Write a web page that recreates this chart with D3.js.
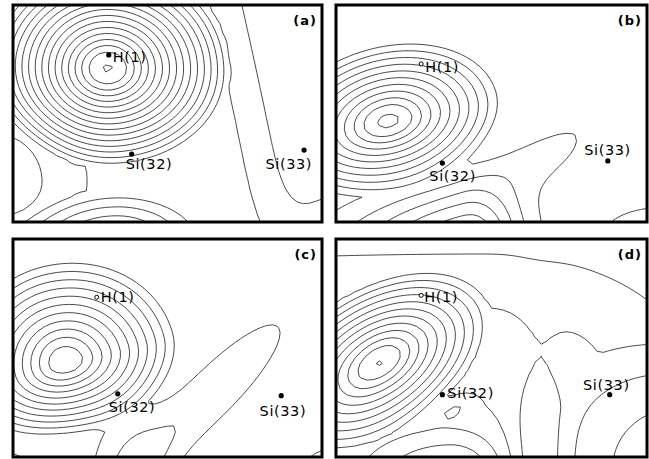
<!DOCTYPE html>
<html>
<head>
<meta charset="utf-8">
<script src="https://cdn.jsdelivr.net/npm/d3@7"></script>
<style>
  html, body { margin: 0; padding: 0; background: #fff; }
  svg { display: block; }
</style>
</head>
<body>
<svg id="fig" width="649" height="459"></svg>
<script>
// ---- data ---------------------------------------------------------------
// Map coordinates: x 0–100, y 0–70 (y grows downward in the section plane).
const panelIds = ["(a)", "(b)", "(c)", "(d)"];
const atomNames = ["H(1)", "Si(32)", "Si(33)"];

// Atom positions in map units, order follows atomNames.
const atomsA = [[31.0, 16.1], [38.4, 48.1], [94.2, 46.8]];
const atomsB = [[27.4, 19.0], [34.2, 51.0], [87.4, 50.3]];
const atomsC = [[27.1, 18.7], [33.9, 49.7], [86.8, 50.3]];
const atomsD = [[27.4, 18.1], [34.2, 50.0], [88.0, 50.0]];

// H(1) drawn as a filled dot in (a), as an open circle in the others.
const hOpen = [false, true, true, true];

// Constant density offset of each map.
const baseDensity = [1.2, 0, 0, 0];

// Density components: [kind, x, y, height, left, right, up, down, rotation°]
//   kind "g" gaussian, "c" rounded cone, "f" flat-topped hump.
const densityA = [
  ["c", 30.5, 20.5, 17.55, 38, 40, 34, 32, 0],
  ["f", 54.0, 35.0, 2.1, 200, 23, 200, 200, -12],
  ["g", -6.0, 57.0, -2.2, 15, 15, 15, 11, 0],
  ["c", 33.0, 76.0, 5.5, 36, 30, 16, 16, 0],
  ["g", 108.0, 78.0, 2.2, 12, 12, 12, 12, 0]
];
const densityB = [
  ["c", 16.8, 37.5, 12.5, 40, 39, 26, 23, -15],
  ["g", 43.0, 76.0, 6.0, 30, 12, 12, 12, -8],
  ["g", 64.0, 49.0, 1.35, 18, 19, 5, 8, -28],
  ["g", 104.0, 76.0, 2.0, 16, 12, 9, 9, 0]
];
const densityC = [
  ["c", 16.8, 39.5, 13.0, 36, 39, 34, 24, -15],
  ["g", 65.0, 49.0, 1.9, 34, 26, 6.6, 6.6, -45],
  ["g", 38.0, 72.0, 1.6, 10, 9, 16, 10, 0],
  ["g", -2.0, 74.0, 1.8, 6, 6, 5, 5, 0],
  ["g", 104.0, 76.0, 1.8, 10, 10, 8, 8, 0]
];
const densityD = [
  ["c", 14.2, 39.5, 11.5, 42, 40, 24, 22, -35],
  ["g", 50.0, 45.0, 2.8, 200, 45, 28, 200, 0],
  ["g", 64.5, 74.0, -1.6, 6, 6, 25, 25, 0],
  ["c", 118.0, 74.0, 5.0, 50, 50, 50, 50, 0],
  ["g", 37.0, 78.0, 4.0, 20, 12, 11, 11, 0],
  ["g", 38.0, 55.0, 1.0, 4, 4, 1.8, 1.8, -25]
];

const levelStep = 1;

// ---- layout -------------------------------------------------------------
const frames = [
  { x: 13,  y: 5,   w: 309, h: 217 },
  { x: 336, y: 5,   w: 311, h: 217 },
  { x: 13,  y: 239, w: 309, h: 218 },
  { x: 336, y: 239, w: 311, h: 218 }
];
// label offsets from each atom dot: [dx, dy, anchor]
const labelPlacement = [
  [[4, 7, "start"], [-6, 15, "start"], [8, 19, "end"]],
  [[4, 8, "start"], [-13, 18, "start"], [23, -6, "end"]],
  [[4, 5, "start"], [-9, 18, "start"], [25, 20, "end"]],
  [[3, 7, "start"], [5, 3, "start"], [20, -5, "end"]]
];

const atomSets = [atomsA, atomsB, atomsC, atomsD];
const densitySets = [densityA, densityB, densityC, densityD];

const svg = d3.select("#fig");
svg.append("rect").attr("width", 649).attr("height", 459).attr("fill", "#fff");

function profile(kind, d) {
  if (kind === "g") return Math.exp(-0.5 * d * d);
  if (kind === "f") return Math.exp(-0.5 * d * d * d * d);
  // rounded cone: linear flank, parabolic cap inside d0
  const d0 = 0.2;
  if (d < d0) return 1 - (d0 + d * d / d0) / 2;
  return Math.max(0, 1 - d);
}

function densityAt(comps, base, x, y) {
  let v = base;
  for (const [kind, cx, cy, hgt, rl, rr, ru, rd, rot] of comps) {
    const a = rot * Math.PI / 180;
    const dx = x - cx, dy = y - cy;
    const u = dx * Math.cos(a) + dy * Math.sin(a);
    const w = -dx * Math.sin(a) + dy * Math.cos(a);
    const un = u / (u < 0 ? rl : rr);
    const wn = w / (w < 0 ? ru : rd);
    v += hgt * profile(kind, Math.sqrt(un * un + wn * wn));
  }
  return v;
}

frames.forEach((f, k) => {
  const g = svg.append("g").attr("transform", `translate(${f.x},${f.y})`);
  const xs = d3.scaleLinear().domain([0, 100]).range([0, f.w]);
  const ys = d3.scaleLinear().domain([0, 70]).range([0, f.h]);

  // sample the density on a coarse grid that runs past the frame
  const step = 2, gx0 = -6, gy0 = -6;
  const nx = Math.ceil(112 / step) + 1, ny = Math.ceil(82 / step) + 1;
  const values = new Array(nx * ny);
  for (let j = 0; j < ny; j++)
    for (let i = 0; i < nx; i++)
      values[j * nx + i] = densityAt(densitySets[k], baseDensity[k], gx0 + i * step, gy0 + j * step);

  const maxV = d3.max(values);
  const levels = d3.range(levelStep, maxV, levelStep);
  const contours = d3.contours().size([nx, ny]).thresholds(levels)(values);

  const proj = d3.geoTransform({
    point(px, py) {
      this.stream.point(xs(gx0 + (px - 0.5) * step), ys(gy0 + (py - 0.5) * step));
    }
  });
  const path = d3.geoPath(proj);

  const clipId = "clip" + k;
  g.append("clipPath").attr("id", clipId)
    .append("rect").attr("width", f.w).attr("height", f.h);

  g.append("g").attr("clip-path", `url(#${clipId})`)
    .selectAll("path").data(contours).join("path")
    .attr("d", path)
    .attr("fill", "none")
    .attr("stroke", "#2a2a2a")
    .attr("stroke-width", 0.85)
    .attr("stroke-linejoin", "round");

  // atoms
  atomSets[k].forEach(([ax, ay], n) => {
    const px = xs(ax), py = ys(ay);
    const open = n === 0 && hOpen[k];
    g.append("circle").attr("cx", px).attr("cy", py)
      .attr("r", open ? 2 : 2.6)
      .attr("fill", open ? "#fff" : "#000")
      .attr("stroke", "#000").attr("stroke-width", open ? 1 : 0);
    const [dx, dy, anchor] = labelPlacement[k][n];
    g.append("text")
      .attr("x", px + dx).attr("y", py + dy)
      .attr("text-anchor", anchor)
      .attr("font-family", "DejaVu Sans, sans-serif")
      .attr("font-size", 14.5)
      .attr("letter-spacing", 0.6)
      .attr("fill", "#000")
      .text(atomNames[n]);
  });

  g.append("text")
    .attr("x", f.w - 5).attr("y", 20)
    .attr("text-anchor", "end")
    .attr("font-family", "DejaVu Sans, sans-serif")
    .attr("font-weight", "bold")
    .attr("font-size", 13)
    .attr("letter-spacing", 1)
    .text(panelIds[k]);

  g.append("rect")
    .attr("width", f.w).attr("height", f.h)
    .attr("fill", "none").attr("stroke", "#000").attr("stroke-width", 3);
});
</script>
</body>
</html>
